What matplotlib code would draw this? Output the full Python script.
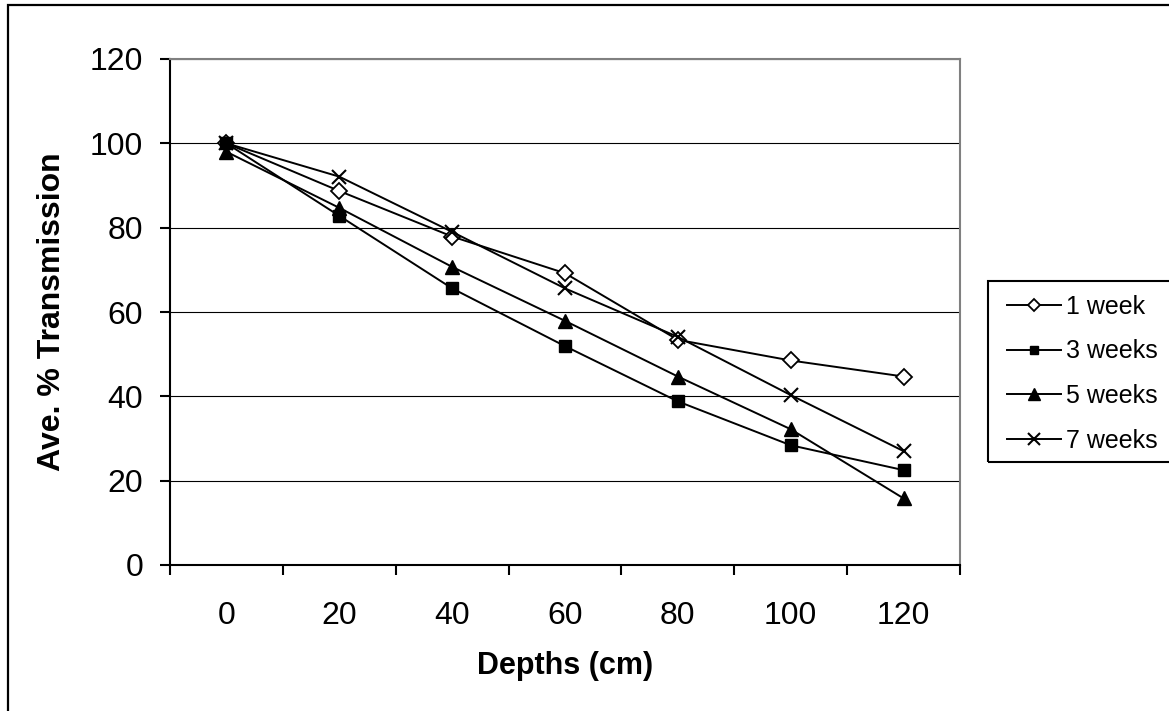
import matplotlib.pyplot as plt
from matplotlib.patches import Rectangle

plt.rcParams['font.family'] = ['Liberation Sans', 'DejaVu Sans']

depths = ['0', '20', '40', '60', '80', '100', '120']
week1 = [100, 88.7, 77.9, 69.2, 53.4, 48.5, 44.7]
week3 = [100, 82.8, 65.6, 51.9, 38.8, 28.4, 22.5]
week5 = [98, 84.7, 70.7, 57.9, 44.7, 32.2, 15.8]
week7 = [100, 92.1, 79.0, 65.6, 54.1, 40.3, 27.0]

fig = plt.figure(figsize=(11.69, 7.11), dpi=100)
ax = fig.add_axes([170 / 1169, 1 - 565 / 711, 790 / 1169, 506 / 711])

x = range(len(depths))
lw = 1.4
ax.plot(x, week1, color='black', lw=lw, marker='D', ms=8, mfc='white', mec='black', mew=1.3, label='1 week', zorder=3)
ax.plot(x, week3, color='black', lw=lw, marker='s', ms=8, mfc='black', mec='black', label='3 weeks', zorder=3)
ax.plot(x, week5, color='black', lw=lw, marker='^', ms=10, mfc='black', mec='black', label='5 weeks', zorder=3)
ax.plot(x, week7, color='black', lw=lw, marker='x', ms=10, mew=1.5, label='7 weeks', zorder=3)

ax.set_xlim(-0.5, len(depths) - 0.5)
ax.set_ylim(0, 120)
ax.set_yticks(range(0, 121, 20))
ax.set_xticks(list(x))
ax.set_xticklabels(depths)
ax.set_xticks([i - 0.5 for i in range(len(depths) + 1)], minor=True)
ax.tick_params(axis='x', which='major', length=0, pad=26, labelsize=23)
ax.tick_params(axis='x', which='minor', length=7.2, width=1.5, direction='out')
ax.tick_params(axis='y', length=7.2, width=1.5, direction='out', pad=12, labelsize=23)
ax.yaxis.grid(True, color='black', lw=0.8)
ax.set_axisbelow(True)

for side in ['left', 'bottom']:
    ax.spines[side].set_linewidth(1.5)
    ax.spines[side].set_color('black')
for side in ['top', 'right']:
    ax.spines[side].set_linewidth(1.5)
    ax.spines[side].set_color('#808080')

ax.set_xlabel('Depths (cm)', fontsize=22, fontweight='bold')
ax.set_ylabel('Ave. % Transmission', fontsize=23, fontweight='bold')
ax.xaxis.set_label_coords(0.5, -0.17)
ax.yaxis.set_label_coords(-0.13, 0.5)

# legend box runs off the right edge, as in the original
fig.patches.append(Rectangle((988 / 1169, 1 - 462 / 711), 0.3, 181 / 711, transform=fig.transFigure,
                             fill=False, ec='black', lw=1.5))
fig.legend(loc='upper left', bbox_to_anchor=(1007 / 1169, 1 - 295 / 711), frameon=False,
           fontsize=18, handlelength=2.15, handletextpad=0.2, labelspacing=0.82,
           borderaxespad=0, borderpad=0, markerscale=0.8)

# outer chart border
fig.patches.append(Rectangle((8 / 1169, -0.1), 1.2, 1 - 5 / 711 + 0.1, transform=fig.transFigure,
                             fill=False, ec='black', lw=1.6))

fig.savefig('out.png', dpi=100)
